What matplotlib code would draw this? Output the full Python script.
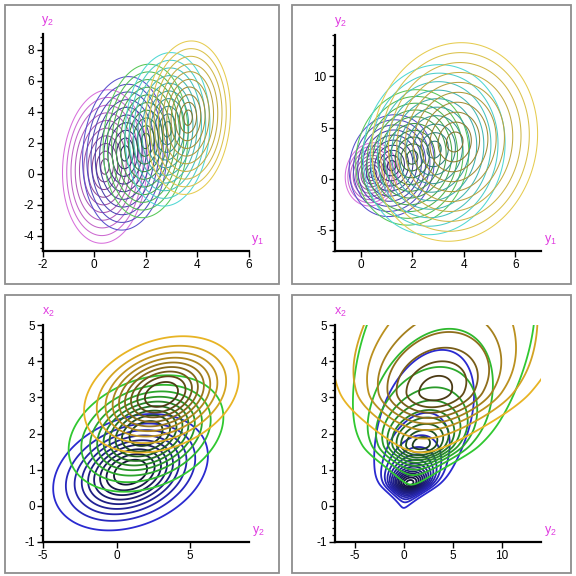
import numpy as np
import matplotlib
matplotlib.use("Agg")
import matplotlib.pyplot as plt
from matplotlib.patches import Rectangle
from matplotlib.ticker import MultipleLocator, AutoMinorLocator
from matplotlib.colors import to_rgb

plt.rcParams['font.family'] = ['Liberation Sans', 'DejaVu Sans']
plt.rcParams['axes.unicode_minus'] = False

# ---------------- data ----------------
# Panels 1 and 2: y1 vs y2, five Gaussian components
p12_mean_y1 = [0.42, 1.2, 2.0, 2.85, 3.65]
p12_mean_y2 = [0.45, 1.3, 2.1, 2.85, 3.6]
p12_sd_y1 = 0.75
p12_sd_y2 = 2.25
p12_rho = 0.08
p2_scale = [0.62, 1.0, 1.33, 1.67, 1.95]
p12_outer = ['#d870dc', '#5a50cc', '#58c858', '#50d8d4', '#e6cc50']
p12_inner = ['#5a2a64', '#1c1c4a', '#205020', '#1e5a5a', '#6a5a20']
p12_ring_radius = [0.22 * k for k in range(1, 11)]

# Panel 3: y2 vs x2, three Gaussian components
p3_mean_y2 = [0.95, 2.0, 3.05]
p3_mean_x2 = [0.93, 2.0, 3.08]
p3_sd_y2 = 2.45
p3_sd_x2 = 0.75
p3_rho = 0.28
p34_outer = ['#2a2ad0', '#30c830', '#e8b424']
p34_inner = ['#101024', '#1a301a', '#3a2c12']
p3_levels = [i / 10 for i in range(1, 10)]

# Panel 4: y2 vs x2, three skewed components (spread in y2 grows with x2)
p4_mode_x2 = [0.63, 1.68, 3.15]
p4_mode_y2 = [0.6, 1.75, 3.2]
p4_slope = [0.9, 0.9, 0.85]
p4_peak = [14.5, 10.5, 8.5]
p4_w_lo = [0.41, 0.73, 1.64]
p4_k_lo = [4.0, 4.0, 6.0]
p4_w_up = [0.325, 0.73, 1.3]
p4_k_up = [1.1, 1.1, 1.1]
p4_sig_origin = [-0.4, -0.3, -1.0]
p4_sig_rate = [1.33, 1.4, 1.14]

# ---------------- layout ----------------
W = H = 576
fig = plt.figure(figsize=(W / 100, H / 100), dpi=100)


def add_axes_px(left, right, top, bottom):
    return fig.add_axes([left / W, 1 - bottom / H, (right - left) / W, (bottom - top) / H])


def frame_px(left, top, right, bottom):
    fig.patches.append(Rectangle((left / W, 1 - bottom / H), (right - left) / W, (bottom - top) / H,
                                 transform=fig.transFigure, fill=False, edgecolor='#8e8e8e',
                                 linewidth=1.3))


frame_px(5, 5, 279, 284)
frame_px(292, 5, 571, 284)
frame_px(5, 295, 279, 573)
frame_px(292, 295, 571, 573)

LABEL_COLOR = '#e03ce0'


def style(ax, xlim, ylim, xmaj, ymaj, xlabel, ylabel):
    ax.set_xlim(*xlim)
    ax.set_ylim(*ylim)
    for s in ['top', 'right']:
        ax.spines[s].set_visible(False)
    for s in ['left', 'bottom']:
        ax.spines[s].set_linewidth(1.6)
        ax.spines[s].set_color('black')
    ax.xaxis.set_major_locator(MultipleLocator(xmaj))
    ax.yaxis.set_major_locator(MultipleLocator(ymaj))
    ax.yaxis.set_minor_locator(AutoMinorLocator(5))
    ax.tick_params(axis='both', which='major', direction='out', length=4, width=1,
                   labelsize=8.5, colors='black', pad=2)
    ax.tick_params(axis='y', which='minor', direction='out', length=2, width=0.9)
    ax.set_facecolor('none')
    ax.text(1.045, 0.05, xlabel, transform=ax.transAxes, color=LABEL_COLOR, fontsize=9,
            ha='center', va='center')
    ax.text(0.025, 1.06, ylabel, transform=ax.transAxes, color=LABEL_COLOR, fontsize=9,
            ha='center', va='center')


def mix(c1, c2, t):
    a = np.array(to_rgb(c1))
    b = np.array(to_rgb(c2))
    return tuple(a * (1 - t) + b * t)


def gauss2(X, Y, mx, my, sx, sy, rho):
    zx = (X - mx) / sx
    zy = (Y - my) / sy
    q = (zx ** 2 - 2 * rho * zx * zy + zy ** 2) / (1 - rho ** 2)
    return np.exp(-0.5 * q)


def draw_gauss(ax, X, Y, mx, my, sx, sy, rho, levels, c_out, c_in, lw, dark=0.9):
    F = gauss2(X, Y, mx, my, sx, sy, rho)
    levels = sorted(levels)
    n = len(levels)
    cols = [mix(c_out, c_in, dark * i / (n - 1)) for i in range(n)]
    ax.contour(X, Y, F, levels=levels, colors=cols, linewidths=lw)


p12_levels = [float(np.exp(-0.5 * r * r)) for r in p12_ring_radius]

# ---------------- panel 1 ----------------
ax1 = add_axes_px(42.7, 248.5, 34, 251)
gx = np.linspace(-3, 7, 400)
gy = np.linspace(-7, 11, 400)
X, Y = np.meshgrid(gx, gy)
for i in range(len(p12_mean_y1)):
    draw_gauss(ax1, X, Y, p12_mean_y1[i], p12_mean_y2[i], p12_sd_y1, p12_sd_y2, p12_rho,
               p12_levels, p12_outer[i], p12_inner[i], 0.75, dark=0.8)
style(ax1, (-2, 6), (-5, 9), 2, 2, r'$\mathregular{y_1}$', r'$\mathregular{y_2}$')

# ---------------- panel 2 ----------------
ax2 = add_axes_px(335, 541, 35, 251)
gx = np.linspace(-2, 8, 400)
gy = np.linspace(-9, 16, 400)
X, Y = np.meshgrid(gx, gy)
for i in range(len(p12_mean_y1)):
    draw_gauss(ax2, X, Y, p12_mean_y1[i], p12_mean_y2[i], p12_sd_y1 * p2_scale[i],
               p12_sd_y2 * p2_scale[i], p12_rho, p12_levels, p12_outer[i], p12_inner[i],
               0.75, dark=0.8)
style(ax2, (-1, 7), (-7, 14), 2, 5, r'$\mathregular{y_1}$', r'$\mathregular{y_2}$')

# ---------------- panel 3 ----------------
ax3 = add_axes_px(43, 249, 325, 542)
gx = np.linspace(-6, 10, 400)
gy = np.linspace(-2, 6, 400)
X, Y = np.meshgrid(gx, gy)
for i in range(len(p3_mean_y2)):
    draw_gauss(ax3, X, Y, p3_mean_y2[i], p3_mean_x2[i], p3_sd_y2, p3_sd_x2, p3_rho,
               p3_levels, p34_outer[i], p34_inner[i], 1.3)
style(ax3, (-5, 9), (-1, 5), 5, 1, r'$\mathregular{y_2}$', r'$\mathregular{x_2}$')

# ---------------- panel 4 ----------------
ax4 = add_axes_px(335.4, 541, 325, 542)
gx = np.linspace(-8, 15, 500)
gy = np.linspace(-1.5, 5.6, 500)
Y2, X2 = np.meshgrid(gx, gy)
for i in range(len(p4_mode_x2)):
    d = X2 - p4_mode_x2[i]
    w = np.where(d < 0, p4_w_lo[i], p4_w_up[i])
    k = np.where(d < 0, p4_k_lo[i], p4_k_up[i])
    ridge = (1 + (d / w) ** 2) ** (-k / 2)
    centre = p4_mode_y2[i] + p4_slope[i] * d
    sig = p4_sig_rate[i] * np.maximum(X2 - p4_sig_origin[i], 0.05)
    F = p4_peak[i] * ridge * np.exp(-0.5 * ((Y2 - centre) / sig) ** 2)
    levels = [float(v) for v in range(1, int(np.ceil(p4_peak[i])))]
    n = len(levels)
    cols = [mix(p34_outer[i], p34_inner[i], 0.9 * j / (n - 1)) for j in range(n)]
    ax4.contour(Y2, X2, F, levels=levels, colors=cols, linewidths=1.3)
style(ax4, (-7, 14), (-1, 5), 5, 1, r'$\mathregular{y_2}$', r'$\mathregular{x_2}$')

fig.savefig('out.png', dpi=100, facecolor='white')
